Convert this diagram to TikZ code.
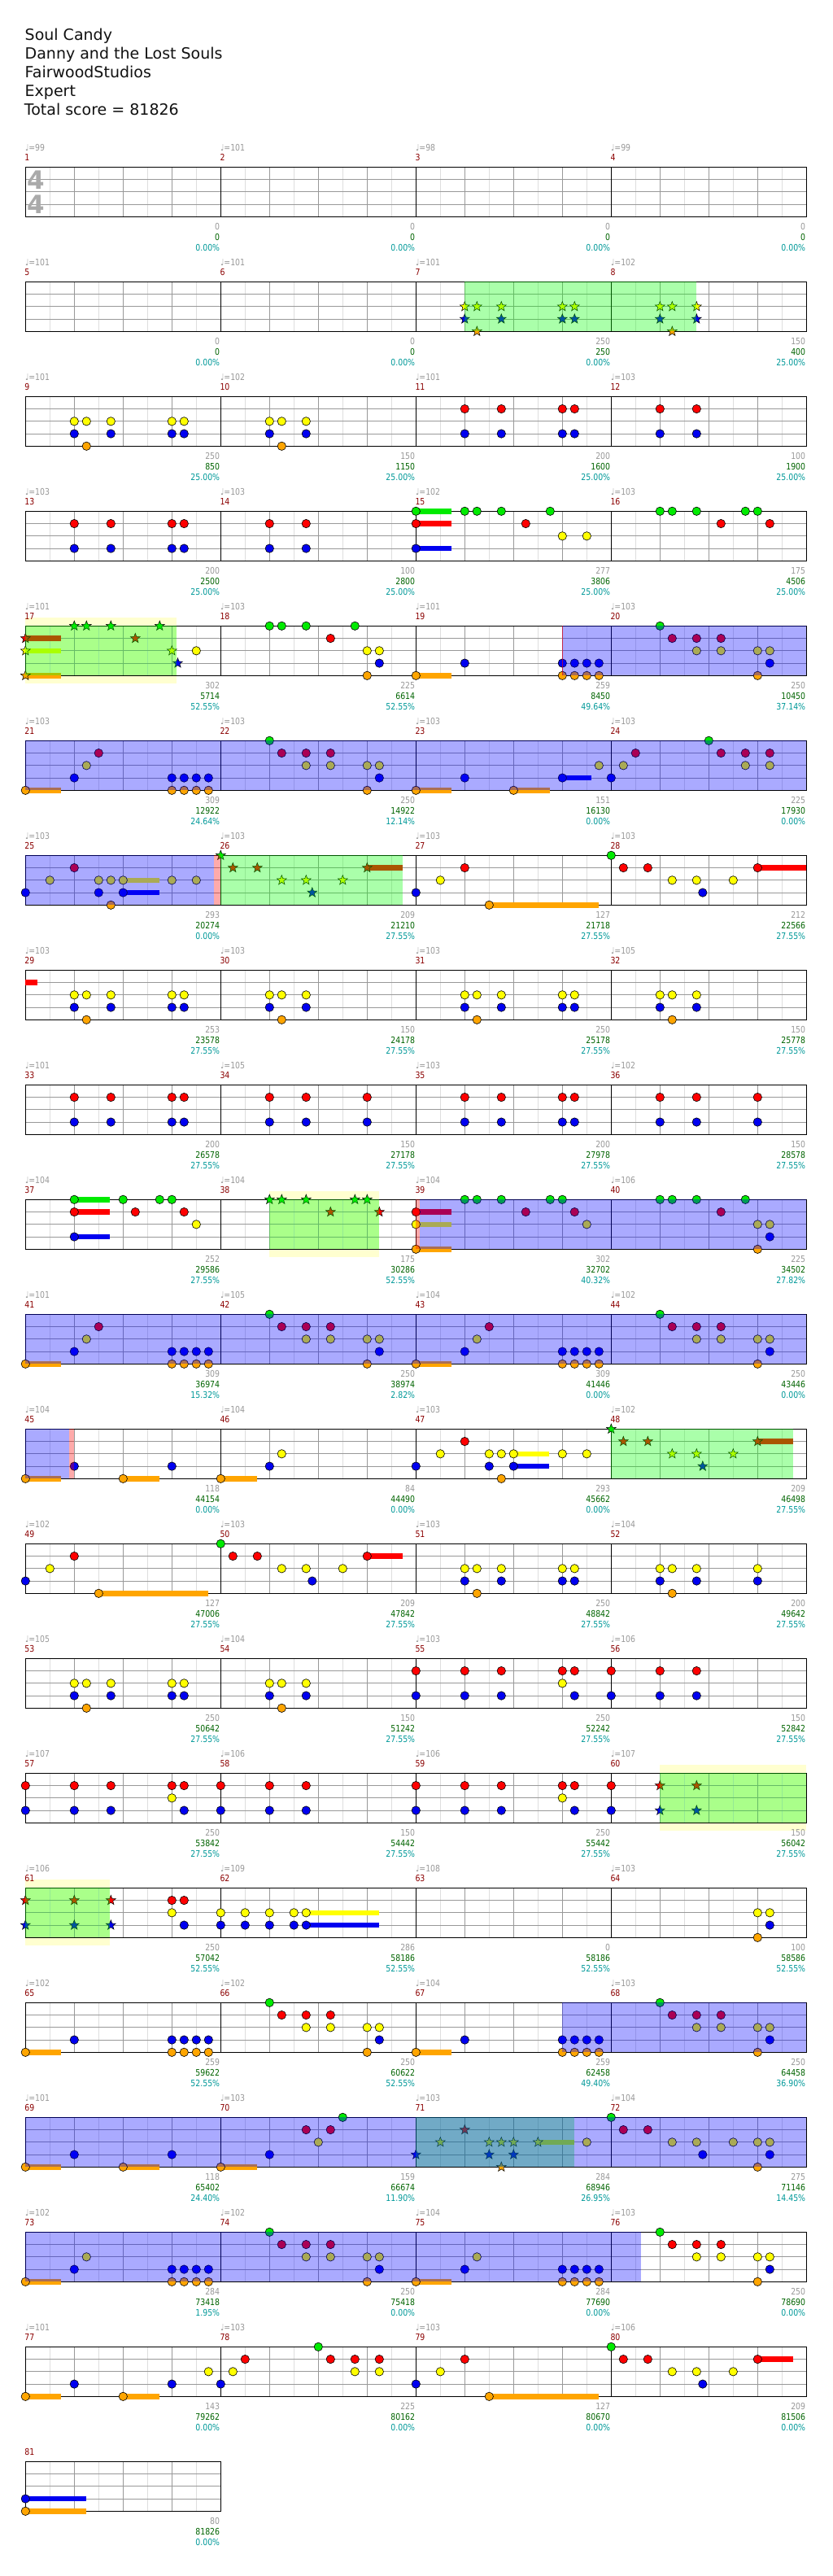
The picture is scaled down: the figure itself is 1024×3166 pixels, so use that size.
\documentclass[tikz,border=0pt]{standalone}
\usepackage{fontspec}
\setmainfont{DejaVu Sans}
\newfontfamily\smallf{DejaVu Sans}[FakeStretch=0.85]
\definecolor{ln0}{RGB}{0,235,0}
\definecolor{ln1}{RGB}{255,0,0}
\definecolor{ln2}{RGB}{255,255,0}
\definecolor{ln3}{RGB}{0,0,240}
\definecolor{ln4}{RGB}{255,165,0}
\definecolor{ybgc}{RGB}{255,255,208}
\definecolor{numred}{RGB}{139,0,0}
\definecolor{cumgreen}{RGB}{0,100,0}
\definecolor{pctteal}{RGB}{0,153,153}
\definecolor{txtgray}{RGB}{153,153,153}
\definecolor{tsgray}{RGB}{170,170,170}
\tikzset{
  lite/.style={draw=black!13, line width=0.7},
  bline/.style={draw=black!40, line width=0.8},
  mline/.style={draw=black, line width=0.8},
  border/.style={draw=black, line width=1.1},
  notest/.style={draw=black, line width=0.6},
  starst/.style={draw=black, line width=0.5},
  greenov/.style={fill=green, fill opacity=0.333},
  odov/.style={fill=blue, fill opacity=0.333},
  pinkov/.style={fill=red, fill opacity=0.333},
  ybg/.style={fill=ybgc},
  smallt/.style={inner sep=0, font=\smallf\fontsize{11}{12}\selectfont},
  mnum/.style={smallt, anchor=base west, text=numred},
  tmp/.style={smallt, anchor=base west, text=txtgray},
  sa/.style={smallt, anchor=base east, text=txtgray},
  sb/.style={smallt, anchor=base east, text=cumgreen},
  sc/.style={smallt, anchor=base east, text=pctteal},
  ttl/.style={anchor=base west, inner sep=0, text=black!93, font=\fontsize{19}{23}\selectfont},
  tsig/.style={anchor=base, inner sep=0, text=tsgray, font=\bfseries\fontsize{31}{31}\selectfont}
}
\def\RT{0}
\newcommand\staff[1]{%
  \pgfmathsetmacro\xe{31.3+240*#1}%
  \pgfmathtruncatemacro\nb{4*#1}%
  \pgfmathtruncatemacro\nbb{4*#1-1}%
  \foreach \i in {1,...,\nb}{\draw[lite] ({31.3+60*(\i-0.5)},\RT) -- ++(0,61);}%
  \foreach \l in {1,2,3}{\draw[bline] (31.3,{\RT+15.25*\l}) -- (\xe,{\RT+15.25*\l});}%
  \foreach \i in {1,...,\nbb}{\pgfmathtruncatemacro\mm{mod(\i,4)}%
    \ifnum\mm=0 \draw[mline] ({31.3+60*\i},\RT) -- ++(0,61);%
    \else \draw[bline] ({31.3+60*\i},\RT) -- ++(0,61);\fi}%
  \draw[border] (31.3,\RT) rectangle (\xe,{\RT+61});%
}
\newcommand\nn[2]{%
  \foreach \l in {#2}{\filldraw[notest, fill=ln\l] ({31.3+60*(#1)},{\RT+15.25*\l}) circle[radius=5.2];}%
}
\newcommand\ns[2]{%
  \foreach \l in {#2}{\filldraw[starst, fill=ln\l, shift={({31.3+60*(#1)},{\RT+15.25*\l})}] (-90:6.3) -- (-54:2.6) -- (-18:6.3) -- (18:2.6) -- (54:6.3) -- (90:2.6) -- (126:6.3) -- (162:2.6) -- (198:6.3) -- (234:2.6) -- cycle;}%
}
\newcommand\sus[3]{\fill[ln#2] ({31.3+60*(#1)},{\RT+15.25*#2-3.3}) rectangle ({31.3+60*(#3)},{\RT+15.25*#2+3.3});}
\newcommand\gr[2]{\fill[greenov] ({31.3+60*(#1)},\RT) rectangle ({31.3+60*(#2)},{\RT+61});}
\newcommand\od[2]{\fill[odov] ({31.3+60*(#1)},\RT) rectangle ({31.3+60*(#2)},{\RT+61});}
\newcommand\pk[2]{\fill[pinkov] ({31.3+60*(#1)},\RT) rectangle ({31.3+60*(#2)},{\RT+61});}
\newcommand\rl[1]{\fill[red, fill opacity=0.6] ({31.3+60*(#1)-0.8},\RT) rectangle ({31.3+60*(#1)+0.8},{\RT+61});}
\newcommand\yb[2]{\fill[ybg] ({31.3+60*(#1)},{\RT-10}) rectangle ({31.3+60*(#2)},{\RT+71});}
\newcommand\ml[6]{%
  \node[mnum] (n#2) at ({30.3+240*#1},{\RT-7.6}) {#2};%
  \node[tmp] (t#2) at ({30.8+240*#1},{\RT-19.6}) {♩=#3};%
  \node[sa] (a#2) at ({30.3+240*(#1+1)},{\RT+77}) {#4};%
  \node[sb] (b#2) at ({30.3+240*(#1+1)},{\RT+90}) {#5};%
  \node[sc] (c#2) at ({30.3+240*(#1+1)},{\RT+103}) {#6\%};%
}
\newcommand\pA[1]{\nn{#1+1}{2,3}\nn{#1+1.25}{2,4}\nn{#1+1.75}{2,3}\nn{#1+3}{2,3}\nn{#1+3.25}{2,3}}
\newcommand\pB[1]{\nn{#1+1}{2,3}\nn{#1+1.25}{2,4}\nn{#1+1.75}{2,3}}
\newcommand\pE[1]{\sus{#1}{4}{#1+0.73}\nn{#1}{4}\nn{#1+1}{3}\nn{#1+3}{3,4}\nn{#1+3.25}{3,4}\nn{#1+3.5}{3,4}\nn{#1+3.75}{3,4}}
\newcommand\pC[1]{\pE{#1}\nn{#1+1.25}{2}\nn{#1+1.5}{1}}
\newcommand\pD[1]{\nn{#1+1}{0}\nn{#1+1.25}{1}\nn{#1+1.75}{1,2}\nn{#1+2.25}{1,2}\nn{#1+3}{2,4}\nn{#1+3.25}{2,3}}
\begin{document}
\begin{tikzpicture}[x=1pt,y=-1pt]
\fill[white] (0,0) rectangle (1024,3166);
\useasboundingbox (0,0) rectangle (1024,3166);
\node[ttl] (h1) at (30.5,49.3) {Soul Candy};
\node[ttl] (h2) at (30.5,72.3) {Danny and the Lost Souls};
\node[ttl] (h3) at (30.5,95.3) {FairwoodStudios};
\node[ttl] (h4) at (30.5,118.3) {Expert};
\node[ttl] (h5) at (29.7,141.3) {Total score = 81826};
% ---- row 1
\def\RT{205.3}
\staff{4}
\node[tsig] (ts1) at (44.5,232.3) {4};
\node[tsig] (ts2) at (44.5,262.3) {4};
\ml{0}{1}{99}{0}{0}{0.00}\ml{1}{2}{101}{0}{0}{0.00}\ml{2}{3}{98}{0}{0}{0.00}\ml{3}{4}{99}{0}{0}{0.00}
% ---- row 2
\def\RT{346.3}
\staff{4}
\ns{9}{2,3}\ns{9.25}{2,4}\ns{9.75}{2,3}\ns{11}{2,3}\ns{11.25}{2,3}\ns{13}{2,3}\ns{13.25}{2,4}\ns{13.75}{2,3}
\gr{9}{13.75}
\ml{0}{5}{101}{0}{0}{0.00}\ml{1}{6}{101}{0}{0}{0.00}\ml{2}{7}{101}{250}{250}{0.00}\ml{3}{8}{102}{150}{400}{25.00}
% ---- row 3
\def\RT{487.3}
\staff{4}
\pA{0}\pB{4}
\nn{9}{1,3}\nn{9.75}{1,3}\nn{11}{1,3}\nn{11.25}{1,3}\nn{13}{1,3}\nn{13.75}{1,3}
\ml{0}{9}{101}{250}{850}{25.00}\ml{1}{10}{102}{150}{1150}{25.00}\ml{2}{11}{101}{200}{1600}{25.00}\ml{3}{12}{103}{100}{1900}{25.00}
% ---- row 4
\def\RT{628.3}
\staff{4}
\nn{1}{1,3}\nn{1.75}{1,3}\nn{3}{1,3}\nn{3.25}{1,3}\nn{5}{1,3}\nn{5.75}{1,3}
\sus{8}{0}{8.73}\sus{8}{1}{8.73}\sus{8}{3}{8.73}\nn{8}{0,1,3}
\nn{9}{0}\nn{9.25}{0}\nn{9.75}{0}\nn{10.25}{1}\nn{10.75}{0}\nn{11}{2}\nn{11.5}{2}
\nn{13}{0}\nn{13.25}{0}\nn{13.75}{0}\nn{14.25}{1}\nn{14.75}{0}\nn{15}{0}\nn{15.25}{1}
\ml{0}{13}{103}{200}{2500}{25.00}\ml{1}{14}{103}{100}{2800}{25.00}\ml{2}{15}{102}{277}{3806}{25.00}\ml{3}{16}{103}{175}{4506}{25.00}
% ---- row 5
\def\RT{769.3}
\yb{0}{3.1}
\staff{4}
\sus{0}{1}{0.73}\sus{0}{2}{0.73}\sus{0}{4}{0.73}\ns{0}{1,2,4}
\ns{1}{0}\ns{1.25}{0}\ns{1.75}{0}\ns{2.25}{1}\ns{2.75}{0}\ns{3}{2}\ns{3.12}{3}
\nn{3.5}{2}
\nn{5}{0}\nn{5.25}{0}\nn{5.75}{0}\nn{6.25}{1}\nn{6.75}{0}\nn{7}{2,4}\nn{7.25}{2,3}
\pE{8}
\pD{12}
\gr{0}{3.1}
\od{11}{16}
\rl{11}
\ml{0}{17}{101}{302}{5714}{52.55}\ml{1}{18}{103}{225}{6614}{52.55}\ml{2}{19}{101}{259}{8450}{49.64}\ml{3}{20}{103}{250}{10450}{37.14}
% ---- row 6
\def\RT{910.3}
\staff{4}
\pC{0}\pD{4}
\sus{8}{4}{8.73}\nn{8}{4}\nn{9}{3}\sus{10}{4}{10.74}\nn{10}{4}\sus{11}{3}{11.6}\nn{11}{3}\nn{11.75}{2}
\nn{12}{3}\nn{12.25}{2}\nn{12.5}{1}\nn{14}{0}\nn{14.25}{1}\nn{14.75}{1,2}\nn{15.25}{1,2}
\od{0}{16}
\ml{0}{21}{103}{309}{12922}{24.64}\ml{1}{22}{103}{250}{14922}{12.14}\ml{2}{23}{103}{151}{16130}{0.00}\ml{3}{24}{103}{225}{17930}{0.00}
% ---- row 7
\def\RT{1051.3}
\staff{4}
\nn{0}{3}\nn{0.5}{2}\nn{1}{1}\nn{1.5}{2,3}\nn{1.75}{2,4}\sus{2}{2}{2.74}\sus{2}{3}{2.74}\nn{2}{2,3}\nn{3}{2}\nn{3.5}{2}
\ns{4}{0}\ns{4.25}{1}\ns{4.75}{1}\ns{5.25}{2}\ns{5.75}{2}\ns{5.875}{3}\ns{6.5}{2}\sus{7}{1}{7.73}\ns{7}{1}
\nn{8}{3}\nn{8.5}{2}\nn{9}{1}\sus{9.5}{4}{11.74}\nn{9.5}{4}
\nn{12}{0}\nn{12.25}{1}\nn{12.75}{1}\nn{13.25}{2}\nn{13.75}{2}\nn{13.875}{3}\nn{14.5}{2}\sus{15}{1}{16}\nn{15}{1}
\gr{4}{7.73}
\od{0}{3.86}
\pk{3.86}{4}
\ml{0}{25}{103}{293}{20274}{0.00}\ml{1}{26}{103}{209}{21210}{27.55}\ml{2}{27}{103}{127}{21718}{27.55}\ml{3}{28}{103}{212}{22566}{27.55}
% ---- row 8
\def\RT{1192.3}
\staff{4}
\sus{0}{1}{0.24}
\pA{0}\pB{4}\pA{8}\pB{12}
\ml{0}{29}{103}{253}{23578}{27.55}\ml{1}{30}{103}{150}{24178}{27.55}\ml{2}{31}{103}{250}{25178}{27.55}\ml{3}{32}{105}{150}{25778}{27.55}
% ---- row 9
\def\RT{1333.3}
\staff{4}
\foreach \p in {1,1.75,3,3.25,5,5.75,7,9,9.75,11,11.25,13,13.75,15}{\nn{\p}{1,3}}
\ml{0}{33}{101}{200}{26578}{27.55}\ml{1}{34}{105}{150}{27178}{27.55}\ml{2}{35}{103}{200}{27978}{27.55}\ml{3}{36}{102}{150}{28578}{27.55}
% ---- row 10
\def\RT{1474.3}
\yb{5}{7.24}
\staff{4}
\sus{1}{0}{1.73}\sus{1}{1}{1.73}\sus{1}{3}{1.73}\nn{1}{0,1,3}
\nn{2}{0}\nn{2.25}{1}\nn{2.75}{0}\nn{3}{0}\nn{3.25}{1}\nn{3.5}{2}
\ns{5}{0}\ns{5.25}{0}\ns{5.75}{0}\ns{6.25}{1}\ns{6.75}{0}\ns{7}{0}\ns{7.25}{1}
\sus{8}{1}{8.73}\sus{8}{2}{8.73}\sus{8}{4}{8.73}\nn{8}{1,2,4}
\nn{9}{0}\nn{9.25}{0}\nn{9.75}{0}\nn{10.25}{1}\nn{10.75}{0}\nn{11}{0}\nn{11.25}{1}\nn{11.5}{2}
\nn{13}{0}\nn{13.25}{0}\nn{13.75}{0}\nn{14.25}{1}\nn{14.75}{0}\nn{15}{2,4}\nn{15.25}{2,3}
\gr{5}{7.24}
\od{8.08}{16}
\pk{8}{8.08}
\ml{0}{37}{104}{252}{29586}{27.55}\ml{1}{38}{104}{175}{30286}{52.55}\ml{2}{39}{104}{302}{32702}{40.32}\ml{3}{40}{106}{225}{34502}{27.82}
% ---- row 11
\def\RT{1615.3}
\staff{4}
\pC{0}\pD{4}\pC{8}\pD{12}
\od{0}{16}
\ml{0}{41}{101}{309}{36974}{15.32}\ml{1}{42}{105}{250}{38974}{2.82}\ml{2}{43}{104}{309}{41446}{0.00}\ml{3}{44}{102}{250}{43446}{0.00}
% ---- row 12
\def\RT{1756.3}
\staff{4}
\sus{0}{4}{0.73}\nn{0}{4}\nn{1}{3}\sus{2}{4}{2.74}\nn{2}{4}\nn{3}{3}
\sus{4}{4}{4.75}\nn{4}{4}\nn{5}{3}\nn{5.25}{2}
\nn{8}{3}\nn{8.5}{2}\nn{9}{1}\nn{9.5}{2,3}\nn{9.75}{2,4}\sus{10}{2}{10.73}\sus{10}{3}{10.73}\nn{10}{2,3}\nn{11}{2}\nn{11.5}{2}
\ns{12}{0}\ns{12.25}{1}\ns{12.75}{1}\ns{13.25}{2}\ns{13.75}{2}\ns{13.875}{3}\ns{14.5}{2}\sus{15}{1}{15.73}\ns{15}{1}
\gr{12}{15.73}
\od{0}{0.89}
\pk{0.89}{1}
\ml{0}{45}{104}{118}{44154}{0.00}\ml{1}{46}{104}{84}{44490}{0.00}\ml{2}{47}{103}{293}{45662}{0.00}\ml{3}{48}{102}{209}{46498}{27.55}
% ---- row 13
\def\RT{1897.3}
\staff{4}
\nn{0}{3}\nn{0.5}{2}\nn{1}{1}\sus{1.5}{4}{3.75}\nn{1.5}{4}
\nn{4}{0}\nn{4.25}{1}\nn{4.75}{1}\nn{5.25}{2}\nn{5.75}{2}\nn{5.875}{3}\nn{6.5}{2}\sus{7}{1}{7.73}\nn{7}{1}
\pA{8}\pB{12}\nn{15}{2,3}
\ml{0}{49}{102}{127}{47006}{27.55}\ml{1}{50}{103}{209}{47842}{27.55}\ml{2}{51}{103}{250}{48842}{27.55}\ml{3}{52}{104}{200}{49642}{27.55}
% ---- row 14
\def\RT{2038.3}
\staff{4}
\pA{0}\pB{4}
\nn{8}{1,3}\nn{9}{1,3}\nn{9.75}{1,3}\nn{11}{1,2}\nn{11.25}{1,3}\nn{12}{1,3}\nn{13}{1,3}\nn{13.75}{1,3}
\ml{0}{53}{105}{250}{50642}{27.55}\ml{1}{54}{104}{150}{51242}{27.55}\ml{2}{55}{103}{250}{52242}{27.55}\ml{3}{56}{106}{150}{52842}{27.55}
% ---- row 15
\def\RT{2179.3}
\yb{13}{16}
\staff{4}
\nn{0}{1,3}\nn{1}{1,3}\nn{1.75}{1,3}\nn{3}{1,2}\nn{3.25}{1,3}\nn{4}{1,3}\nn{5}{1,3}\nn{5.75}{1,3}
\nn{8}{1,3}\nn{9}{1,3}\nn{9.75}{1,3}\nn{11}{1,2}\nn{11.25}{1,3}\nn{12}{1,3}
\ns{13}{1,3}\ns{13.75}{1,3}
\gr{13}{16}
\ml{0}{57}{107}{250}{53842}{27.55}\ml{1}{58}{106}{150}{54442}{27.55}\ml{2}{59}{106}{250}{55442}{27.55}\ml{3}{60}{107}{150}{56042}{27.55}
% ---- row 16
\def\RT{2320.3}
\yb{0}{1.73}
\staff{4}
\ns{0}{1,3}\ns{1}{1,3}\ns{1.75}{1,3}
\nn{3}{1,2}\nn{3.25}{1,3}
\nn{4}{2,3}\nn{4.5}{2,3}\nn{5}{2,3}\nn{5.5}{2,3}\sus{5.75}{2}{7.24}\sus{5.75}{3}{7.24}\nn{5.75}{2,3}
\nn{15}{2,4}\nn{15.25}{2,3}
\gr{0}{1.73}
\ml{0}{61}{106}{250}{57042}{52.55}\ml{1}{62}{109}{286}{58186}{52.55}\ml{2}{63}{108}{0}{58186}{52.55}\ml{3}{64}{103}{100}{58586}{52.55}
% ---- row 17
\def\RT{2461.3}
\staff{4}
\pE{0}\pD{4}\pE{8}\pD{12}
\od{11}{16}
\ml{0}{65}{102}{259}{59622}{52.55}\ml{1}{66}{102}{250}{60622}{52.55}\ml{2}{67}{104}{259}{62458}{49.40}\ml{3}{68}{103}{250}{64458}{36.90}
% ---- row 18
\def\RT{2602.3}
\staff{4}
\sus{0}{4}{0.73}\nn{0}{4}\nn{1}{3}\sus{2}{4}{2.74}\nn{2}{4}\nn{3}{3}
\sus{4}{4}{4.75}\nn{4}{4}\nn{5}{3}\nn{5.75}{1}\nn{6}{2}\nn{6.25}{1}\nn{6.5}{0}
\ns{8}{3}\ns{8.5}{2}\ns{9}{1}\ns{9.5}{2,3}\ns{9.75}{2,4}\ns{10}{2,3}\sus{10.5}{2}{11.25}\ns{10.5}{2}
\nn{11.5}{2}\nn{12}{0}\nn{12.25}{1}\nn{12.75}{1}\nn{13.25}{2}\nn{13.75}{2}\nn{13.875}{3}\nn{14.5}{2}\nn{15}{2,4}\nn{15.25}{2,3}
\gr{8}{11.25}
\od{0}{16}
\ml{0}{69}{101}{118}{65402}{24.40}\ml{1}{70}{103}{159}{66674}{11.90}\ml{2}{71}{103}{284}{68946}{26.95}\ml{3}{72}{104}{275}{71146}{14.45}
% ---- row 19
\def\RT{2743.3}
\staff{4}
\pE{0}\nn{1.25}{2}\pD{4}\pE{8}\nn{9.25}{2}\pD{12}
\od{0}{12.61}
\ml{0}{73}{102}{284}{73418}{1.95}\ml{1}{74}{102}{250}{75418}{0.00}\ml{2}{75}{104}{284}{77690}{0.00}\ml{3}{76}{103}{250}{78690}{0.00}
% ---- row 20
\def\RT{2884.3}
\staff{4}
\sus{0}{4}{0.73}\nn{0}{4}\nn{1}{3}\sus{2}{4}{2.74}\nn{2}{4}\nn{3}{3}\nn{3.75}{2}
\nn{4}{3}\nn{4.25}{2}\nn{4.5}{1}\nn{6}{0}\nn{6.25}{1}\nn{6.75}{1,2}\nn{7.25}{1,2}
\nn{8}{3}\nn{8.5}{2}\nn{9}{1}\sus{9.5}{4}{11.74}\nn{9.5}{4}
\nn{12}{0}\nn{12.25}{1}\nn{12.75}{1}\nn{13.25}{2}\nn{13.75}{2}\nn{13.875}{3}\nn{14.5}{2}\sus{15}{1}{15.73}\nn{15}{1}
\ml{0}{77}{101}{143}{79262}{0.00}\ml{1}{78}{103}{225}{80162}{0.00}\ml{2}{79}{103}{127}{80670}{0.00}\ml{3}{80}{106}{209}{81506}{0.00}
% ---- row 21
\def\RT{3025.3}
\staff{1}
\sus{0}{3}{1.25}\sus{0}{4}{1.25}\nn{0}{3,4}
\node[mnum] (n81) at (30.3,{\RT-7.6}) {81};
\node[sa] (a81) at (270.3,{\RT+77}) {80};
\node[sb] (b81) at (270.3,{\RT+90}) {81826};
\node[sc] (c81) at (270.3,{\RT+103}) {0.00\%};
\end{tikzpicture}
\end{document}
